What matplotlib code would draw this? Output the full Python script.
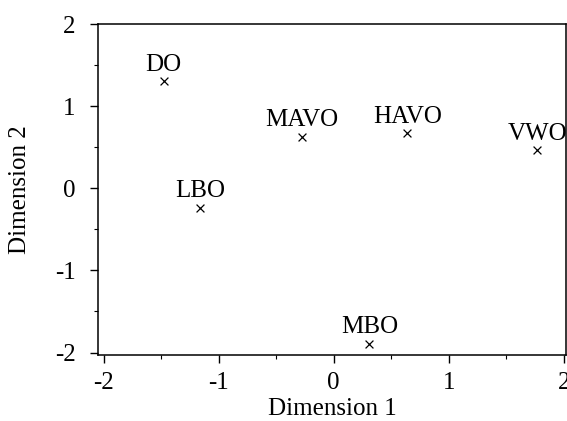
import matplotlib
matplotlib.use("Agg")
import matplotlib.pyplot as plt
from matplotlib.ticker import MultipleLocator

plt.rcParams['font.family'] = ['Liberation Serif', 'DejaVu Serif']

labels = ["DO", "LBO", "MAVO", "HAVO", "VWO", "MBO"]
dim1 = [-1.48, -1.16, -0.28, 0.64, 1.77, 0.31]
dim2 = [1.30, -0.24, 0.63, 0.67, 0.46, -1.89]
xticks = [-2, -1, 0, 1, 2]
yticks = [-2, -1, 0, 1, 2]

FS = 18

fig = plt.figure(figsize=(5.67, 4.21), dpi=100)
ax = fig.add_axes([98/567, 1-355/421, (566-98)/567, (355-24)/421])

ax.scatter(dim1, dim2, marker='x', s=32, c='black', linewidths=0.9)
for lab, x, y in zip(labels, dim1, dim2):
    ax.annotate(lab, (x, y), xytext=(0, 4), textcoords='offset points',
                ha='center', va='bottom', fontsize=FS)

ax.set_xlim(-2.05, 2.02)
ax.set_ylim(-2.03, 2.0)
ax.set_xticks(xticks)
ax.set_yticks(yticks)
ax.set_xticklabels([str(t) for t in xticks])
ax.set_yticklabels([str(t) for t in yticks])
ax.xaxis.set_minor_locator(MultipleLocator(0.5))
ax.yaxis.set_minor_locator(MultipleLocator(0.5))
ax.tick_params(which='major', direction='out', length=6, width=1, labelsize=FS, pad=6)
ax.tick_params(axis='y', which='major', pad=10)
ax.tick_params(which='minor', direction='out', length=3, width=0.8)
for s in ax.spines.values():
    s.set_linewidth(1.1)

ax.set_xlabel("Dimension 1", fontsize=FS, labelpad=3)
ax.set_ylabel("Dimension 2", fontsize=FS, labelpad=17)

fig.savefig("out.png", dpi=100)
